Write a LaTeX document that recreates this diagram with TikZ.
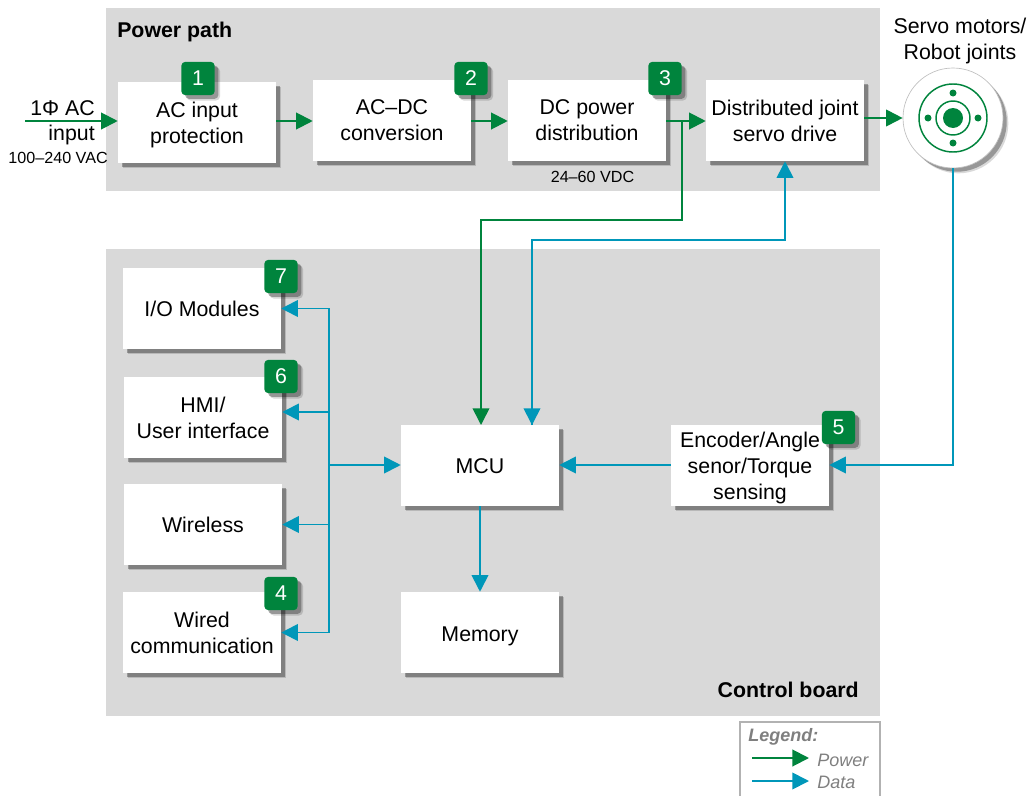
\documentclass[tikz,border=0pt]{standalone}
\usepackage{fontspec}
\setmainfont{Liberation Sans}
\usetikzlibrary{arrows.meta,shadows}
\definecolor{pwrgreen}{HTML}{00843D}
\definecolor{datablue}{HTML}{0097B9}
\definecolor{panelgray}{HTML}{D9D9D9}
\definecolor{legendgray}{HTML}{7F7F7F}
\newcommand{\lowertext}[2]{\raisebox{-#1}[\height][0pt]{#2}}
\tikzset{
  softshadow/.style={drop shadow={shadow xshift=4pt,shadow yshift=-4pt,fill=black,opacity=.15},
    drop shadow={shadow xshift=2.8pt,shadow yshift=-2.8pt,fill=black,opacity=.3}},
  panel/.style={fill=panelgray,minimum width=580.5pt,inner sep=0pt},
  block/.style={fill=white,softshadow,minimum width=118.5pt,minimum height=60.75pt,inner sep=0pt,
    align=center,text depth=0pt,font=\fontsize{16}{19.5}\selectfont},
  badge/.style={fill=pwrgreen,text=white,rounded corners=3pt,softshadow,minimum size=25pt,inner sep=0pt,
    font=\fontsize{16}{18}\selectfont},
  lbl/.style={inner sep=0pt,align=center,font=\fontsize{16}{19.5}\selectfont},
  small/.style={inner sep=0pt,font=\fontsize{12.1}{14}\selectfont},
  head/.style={inner sep=0pt,font=\fontsize{16}{18}\selectfont\bfseries},
  power/.style={draw=pwrgreen,line width=1.5pt,-{Triangle[length=12.5pt,width=12.5pt]}},
  powerthin/.style={draw=pwrgreen,line width=1.2pt,-{Triangle[length=12.5pt,width=12.5pt]}},
  data/.style={draw=datablue,line width=1.3pt,-{Triangle[length=12.5pt,width=12.5pt]}},
  legtext/.style={inner sep=0pt,text=legendgray,font=\fontsize{13.5}{16}\selectfont\itshape},
}
\begin{document}
\begin{tikzpicture}[x=0.75pt,y=-0.75pt]
  \useasboundingbox (0,0) rectangle (1029,796);
  % panels
  \node [panel,minimum height=137.25pt] (powerpanel) at (493,99.5) {};
  \node [panel,minimum height=350.25pt] (controlpanel) at (493,482.5) {};
  \node [head,anchor=west] (powertitle) at (117,32) {Power path};
  \node [head,anchor=east] (controltitle) at (859,690) {Control board};
  % power path
  \node [block] (acinput) at (197,122.5) {AC input\\protection};
  \node [block] (acdc) at (392,120.5) {AC–DC\\conversion};
  \node [block] (dcpower) at (587,120.5) {DC power\\distribution};
  \node [block] (jointdrive) at (785,120.5) {Distributed joint\\servo drive};
  % control board
  \node [block] (iomod) at (202,308.5) {I/O Modules};
  \node [block] (hmi) at (203,417.5) {HMI/\\User interface};
  \node [block] (wireless) at (203,524.5) {Wireless};
  \node [block] (wired) at (202,632.5) {Wired\\communication};
  \node [block] (mcu) at (480,465.5) {\lowertext{.75pt}{MCU}};
  \node [block] (memory) at (480,632.5) {\lowertext{1.5pt}{Memory}};
  \node [block] (encoder) at (750,465.5) {Encoder/Angle\\senor/Torque\\sensing};
  % number badges
  \node [badge] (badgea) at (198,78.5) {1};
  \node [badge] (badgeb) at (471,78.5) {2};
  \node [badge] (badgec) at (665,78.5) {3};
  \node [badge] (badged) at (281,593.5) {4};
  \node [badge] (badgee) at (838.5,427.5) {5};
  \node [badge] (badgef) at (281,376.5) {6};
  \node [badge] (badgeg) at (281,276.5) {7};
  % motor
  \node [circle,fill=white,draw=black!25,line width=.5pt,softshadow,minimum size=75pt,inner sep=0pt] (motor) at (953,118) {};
  \draw [pwrgreen,line width=1.1pt] (motor.center) circle (34) (motor.center) circle (17);
  \fill [pwrgreen] (motor.center) circle (10);
  \foreach \ang in {0,90,180,270}
    \fill [pwrgreen] (motor.center) ++(\ang:25) circle (3.5);
  \node [lbl] (motorlabel) at (960,41) {Servo motors/\\Robot joints};
  % input labels
  \node [lbl,anchor=east] (inputa) at (95,108) {1Φ AC};
  \node [lbl,anchor=east] (inputb) at (95,135) {input};
  \node [small,anchor=east] (inputc) at (108,158) {100–240 VAC};
  \node [small] (dcrange) at (592.5,177) {24–60 VDC};
  % power connectors
  \coordinate (acin) at (25,121);
  \coordinate (dcsplit) at (682,121);
  \draw [power] (acin) -- (acinput.west |- acin);
  \draw [power] (acinput.east |- acin) -- (acdc.west |- acin);
  \draw [power] (acdc.east |- acin) -- (dcpower.west |- acin);
  \draw [power] (dcpower.east |- acin) -- (jointdrive.west |- acin);
  \draw [power] (jointdrive.east |- motor) -- (motor.west);
  \draw [powerthin] (dcsplit) -- (682,220) -- (481,220) -- (481,425);
  % data connectors
  \coordinate (busmid) at (329,465);
  \coordinate (mcudata) at (532,425);
  \draw [data] (mcu) -- (memory);
  \draw [data] (encoder.west |- busmid) -- (mcu.east |- busmid);
  \draw [data] (motor.south) |- (encoder.east |- busmid);
  \draw [data] (mcudata) -- (532,240) -| (jointdrive.south);
  \draw [data] (jointdrive.south) ++(0,79) -- ++(-253,0) -- (mcudata);
  \draw [data] (busmid) -- (mcu.west |- busmid);
  \draw [data] (busmid) |- (iomod.east);
  \draw [data] (busmid) |- (hmi.east |- 0,412);
  \draw [data] (busmid) |- (wireless.east);
  \draw [data] (busmid) |- (wired.east);
  % legend
  \draw [black!30,line width=.9pt] (740,796) -- (740,722) -- (880,722) -- (880,796);
  \node [legtext,anchor=west,font=\fontsize{13.5}{16}\selectfont\bfseries\itshape] (legendtitle) at (748,737) {Legend:};
  \coordinate (legpa) at (752,758);
  \coordinate (legpb) at (809,758);
  \coordinate (legda) at (752,781);
  \coordinate (legdb) at (809,781);
  \draw [power] (legpa) -- (legpb);
  \draw [data] (legda) -- (legdb);
  \node [legtext,anchor=west] (legendpower) at (817,760) {Power};
  \node [legtext,anchor=west] (legenddata) at (817,782) {Data};
\end{tikzpicture}
\end{document}
